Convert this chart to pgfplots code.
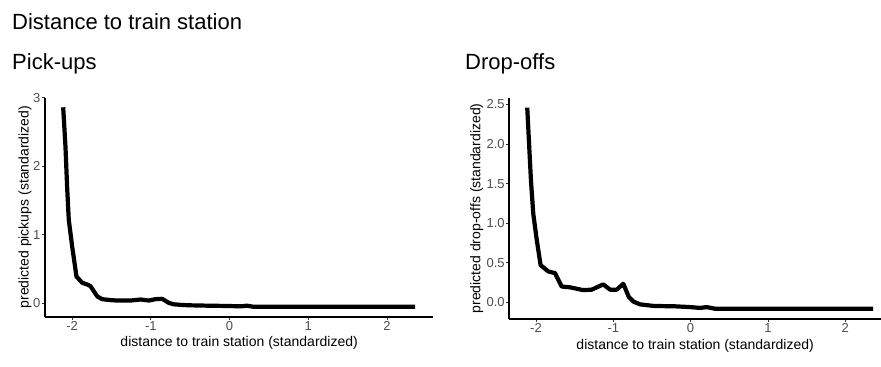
\documentclass[border=0pt]{standalone}
\usepackage{pgfplots}
\pgfplotsset{compat=1.18}
\usepackage{fontspec}
\setmainfont{Liberation Sans}
\definecolor{ticklab}{HTML}{4D4D4D}
\definecolor{tickcol}{HTML}{333333}
\pgfplotsset{
  ggclassic/.style={
    scale only axis,
    axis lines=left,
    axis line style={-, black, line width=1.8bp},
    tick align=outside,
    major tick length=3bp,
    tick style={tickcol, line width=0.7bp},
    ticklabel style={font=\fontsize{13bp}{15bp}\selectfont, text=ticklab, inner sep=1.5bp},
    label style={font=\fontsize{14bp}{16bp}\selectfont, text=black},
    xtick={-2,-1,0,1,2},
    xticklabels={-2,-1,0,1,2},
    xlabel={distance to train station (standardized)},
    xlabel style={at={(axis description cs:0.5,0)}, anchor=center, yshift=-26.5bp},
    clip=false,
  }
}
\begin{document}
\begin{tikzpicture}
\path[use as bounding box] (0,0) rectangle (881bp,367bp);
\node[anchor=base west, inner sep=0pt, font=\fontsize{22bp}{26bp}\selectfont] at (12bp,337bp) {Distance to train station};
\node[anchor=base west, inner sep=0pt, font=\fontsize{22bp}{26bp}\selectfont] at (12bp,297bp) {Pick-ups};
\node[anchor=base west, inner sep=0pt, font=\fontsize{22bp}{26bp}\selectfont] at (465bp,297bp) {Drop-offs};

\begin{axis}[ggclassic,
  at={(45bp,50.3bp)}, anchor=south west,
  width=388.3bp, height=219bp,
  xmin=-2.345, xmax=2.59, ymin=-0.196, ymax=3.0,
  ytick={0,1,2,3}, yticklabels={0,1,2,3},
  ylabel={predicted pickups (standardized)},
  ylabel style={at={(axis description cs:-0.0515,0.5)}, anchor=center},
]
\addplot[black, line width=4.2bp, line join=round] coordinates {
(-2.114,2.86) (-2.085,2.29) (-2.064,1.70) (-2.043,1.22) (-2.0,0.83)
(-1.945,0.39) (-1.873,0.30) (-1.80,0.27) (-1.767,0.25) (-1.68,0.10)
(-1.62,0.06) (-1.50,0.045) (-1.43,0.04) (-1.26,0.04) (-1.13,0.055)
(-1.027,0.04) (-0.94,0.06) (-0.856,0.065) (-0.77,0.005) (-0.71,-0.015)
(-0.60,-0.025) (-0.497,-0.03) (-0.285,-0.035) (0.0,-0.04) (0.14,-0.045)
(0.22,-0.035) (0.30,-0.05) (0.6,-0.05) (1.0,-0.05) (1.5,-0.05) (2.0,-0.05) (2.36,-0.05)
};
\end{axis}

\begin{axis}[ggclassic,
  at={(509.3bp,48bp)}, anchor=south west,
  width=371.7bp, height=221.3bp,
  xmin=-2.345, xmax=2.463, ymin=-0.21, ymax=2.585,
  ytick={0,0.5,1,1.5,2,2.5}, yticklabels={0.0,0.5,1.0,1.5,2.0,2.5},
  ylabel={predicted drop-offs (standardized)},
  ylabel style={at={(axis description cs:-0.0877,0.5)}, anchor=center},
]
\addplot[black, line width=4.2bp, line join=round] coordinates {
(-2.113,2.46) (-2.087,1.96) (-2.065,1.54) (-2.035,1.12) (-1.99,0.79)
(-1.94,0.47) (-1.84,0.39) (-1.754,0.37) (-1.667,0.20) (-1.56,0.19)
(-1.39,0.155) (-1.28,0.16) (-1.13,0.227) (-1.04,0.16) (-0.956,0.16)
(-0.87,0.235) (-0.80,0.07) (-0.74,0.01) (-0.655,-0.025) (-0.48,-0.045)
(-0.2,-0.05) (0.0,-0.06) (0.12,-0.07) (0.21,-0.06) (0.315,-0.08)
(0.6,-0.08) (1.0,-0.08) (1.5,-0.08) (2.0,-0.08) (2.36,-0.08)
};
\end{axis}
\end{tikzpicture}
\end{document}
